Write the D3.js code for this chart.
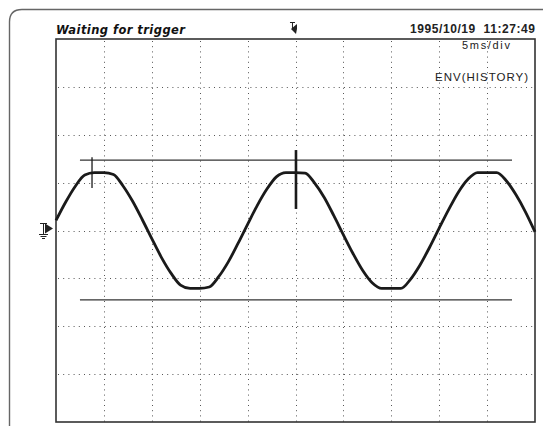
<!DOCTYPE html>
<html>
<head>
<meta charset="utf-8">
<script src="https://cdn.jsdelivr.net/npm/d3@7"></script>
<style>
  body { margin: 0; background: #fff; }
  svg { display: block; }
</style>
</head>
<body>
<div id="scope"></div>
<script>
// time axis: 5 ms/div, 10 divs; vertical: divisions, 8 divs
const timeTicks = [5, 10, 15, 20, 25, 30, 35, 40, 45];
const divTicks = [-3, -2, -1, 0, 1, 2, 3];

// waveform, one sample per ms (value in divisions)
const sampleTimes = d3.range(0, 51);
const samples = [
  0.21, 0.59, 0.92, 1.16, 1.21, 1.21, 1.17, 0.93, 0.61, 0.23,
  -0.17, -0.56, -0.89, -1.14, -1.21, -1.21, -1.18, -0.96, -0.65, -0.27,
  0.13, 0.52, 0.86, 1.12, 1.21, 1.21, 1.20, 0.99, 0.69, 0.31,
  -0.09, -0.48, -0.83, -1.09, -1.21, -1.21, -1.21, -1.02, -0.72, -0.35,
  0.05, 0.44, 0.80, 1.07, 1.21, 1.21, 1.21, 1.04, 0.75, 0.39,
  -0.03
];

// cursors
const cursorLevels = [1.47, -1.45];
const cursorSpan = [2.5, 47.6];
const markers = [
  { t: 3.76, from: 0.89, to: 1.53, w: 1.3 },
  { t: 25.05, from: 0.45, to: 1.68, w: 2.6 }
];

const W = 543, H = 426;
const plot = { left: 56, top: 39, right: 535, bottom: 422 };

const svg = d3.select("#scope").append("svg")
    .attr("width", W)
    .attr("height", H)
    .attr("viewBox", `0 0 ${W} ${H}`);

const x = d3.scaleLinear().domain([0, 50]).range([plot.left, plot.right]);
const y = d3.scaleLinear().domain([-4, 4]).range([plot.bottom, plot.top]);

// outer bezel (rounded top-left corner)
svg.append("path")
    .attr("d", `M9.5,${H + 2} V22 Q9.5,9.5 22,9.5 H${W + 2}`)
    .attr("fill", "none")
    .attr("stroke", "#666")
    .attr("stroke-width", 1.4);

// dotted grid
const grid = svg.append("g").attr("stroke", "#555").attr("stroke-width", 1)
    .attr("stroke-dasharray", "1,4.2");
grid.selectAll(".vg").data(timeTicks).join("line")
    .attr("x1", d => Math.round(x(d)) + 0.5).attr("x2", d => Math.round(x(d)) + 0.5)
    .attr("y1", plot.top + 2).attr("y2", plot.bottom);
grid.selectAll(".hg").data(divTicks).join("line")
    .attr("x1", plot.left + 2).attr("x2", plot.right)
    .attr("y1", d => Math.round(y(d)) + 0.5).attr("y2", d => Math.round(y(d)) + 0.5);

// screen border
svg.append("rect")
    .attr("x", plot.left).attr("y", plot.top)
    .attr("width", plot.right - plot.left).attr("height", plot.bottom - plot.top)
    .attr("fill", "none").attr("stroke", "#333").attr("stroke-width", 1.6);

// horizontal cursors
svg.selectAll(".cursor").data(cursorLevels).join("line")
    .attr("x1", x(cursorSpan[0])).attr("x2", x(cursorSpan[1]))
    .attr("y1", d => y(d)).attr("y2", d => y(d))
    .attr("stroke", "#333").attr("stroke-width", 1.2);

// waveform
const line = d3.line()
    .x((d, i) => x(sampleTimes[i]))
    .y(d => y(d))
    .curve(d3.curveMonotoneX);
svg.append("path")
    .datum(samples)
    .attr("d", line)
    .attr("fill", "none")
    .attr("stroke", "#1a1a1a")
    .attr("stroke-width", 2.8)
    .attr("stroke-linejoin", "round");

// vertical spikes
svg.selectAll(".mark").data(markers).join("line")
    .attr("x1", d => x(d.t)).attr("x2", d => x(d.t))
    .attr("y1", d => y(d.from)).attr("y2", d => y(d.to))
    .attr("stroke", "#1a1a1a").attr("stroke-width", d => d.w);

// ground marker on the left
const g0 = y(0) - 2;
const gm = svg.append("g").attr("stroke", "#222").attr("fill", "#222");
gm.append("path").attr("d", `M45,${g0 - 5} L53,${g0} L45,${g0 + 5} Z`).attr("stroke", "none");
gm.append("line").attr("x1", 40).attr("x2", 47).attr("y1", g0 - 5).attr("y2", g0 - 5).attr("stroke-width", 1);
gm.append("line").attr("x1", 43.5).attr("x2", 43.5).attr("y1", g0 - 5).attr("y2", g0 + 6).attr("stroke-width", 1);
gm.append("line").attr("x1", 39).attr("x2", 48).attr("y1", g0 + 6).attr("y2", g0 + 6).attr("stroke-width", 1);
gm.append("line").attr("x1", 40.5).attr("x2", 46.5).attr("y1", g0 + 8).attr("y2", g0 + 8).attr("stroke-width", 1);
gm.append("line").attr("x1", 42).attr("x2", 45).attr("y1", g0 + 10).attr("y2", g0 + 10).attr("stroke-width", 1);

// trigger position marker on top
const tx = x(25.05);
const tm = svg.append("g").attr("stroke", "#222").attr("fill", "#222");
tm.append("line").attr("x1", tx - 6).attr("x2", tx - 1).attr("y1", 22.5).attr("y2", 22.5).attr("stroke-width", 1);
tm.append("line").attr("x1", tx - 3.5).attr("x2", tx - 3.5).attr("y1", 22.5).attr("y2", 29).attr("stroke-width", 1);
tm.append("path").attr("d", `M${tx - 5},29 L${tx + 1},29 L${tx + 1},24 Z`).attr("stroke", "none");
tm.append("path").attr("d", `M${tx - 5},29 L${tx + 1},29 L${tx},34 Z`).attr("stroke", "none");

// texts
svg.append("text")
    .attr("x", 56).attr("y", 34)
    .attr("font-family", "DejaVu Sans")
    .attr("font-weight", "bold").attr("font-style", "italic")
    .attr("font-size", 11.5)
    .attr("textLength", 129)
    .attr("fill", "#111")
    .text("Waiting for trigger");

svg.append("text")
    .attr("x", 410).attr("y", 33)
    .attr("font-family", "Liberation Sans")
    .attr("font-weight", "bold")
    .attr("font-size", 12)
    .attr("textLength", 125)
    .attr("lengthAdjust", "spacing")
    .attr("fill", "#222")
    .style("white-space", "pre")
    .text("1995/10/19  11:27:49");

svg.append("text")
    .attr("x", 462).attr("y", 49)
    .attr("font-family", "Liberation Sans")
    .attr("font-size", 11)
    .attr("textLength", 48)
    .attr("lengthAdjust", "spacing")
    .attr("fill", "#222")
    .text("5ms/div");

svg.append("text")
    .attr("x", 435).attr("y", 81)
    .attr("font-family", "Liberation Sans")
    .attr("font-size", 11.5)
    .attr("textLength", 93)
    .attr("lengthAdjust", "spacing")
    .attr("fill", "#222")
    .text("ENV(HISTORY)");
</script>
</body>
</html>
